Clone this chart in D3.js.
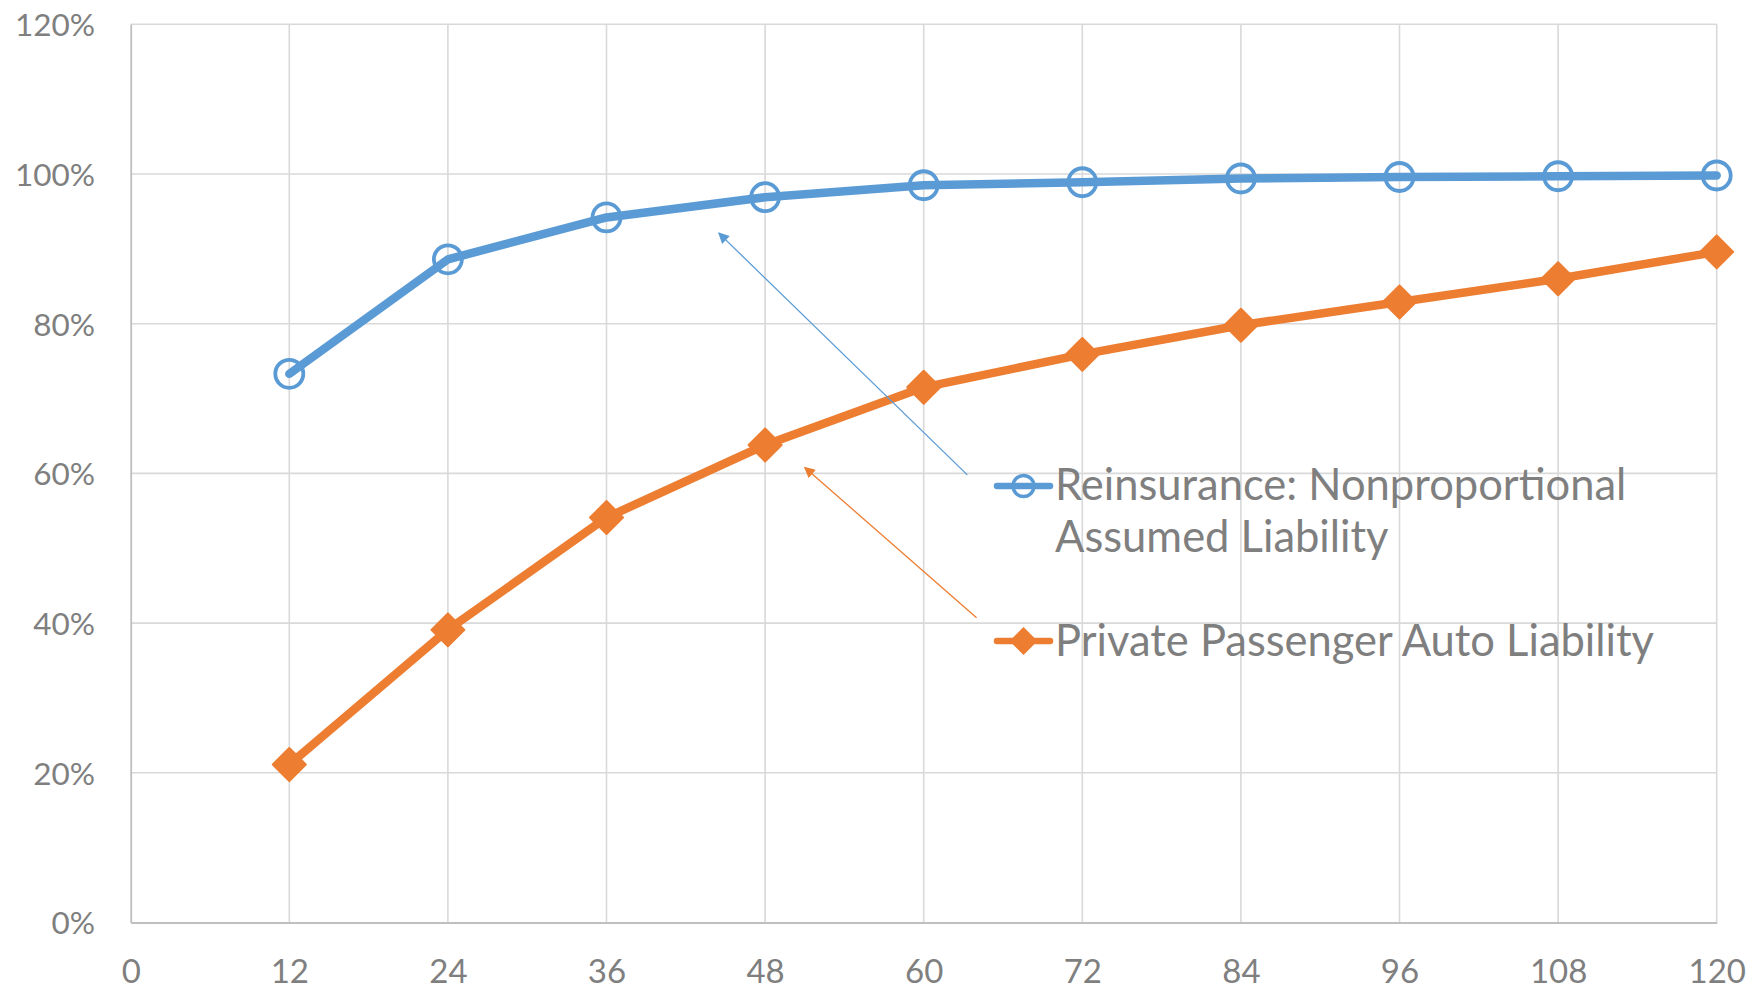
<!DOCTYPE html>
<html>
<head>
<meta charset="utf-8">
<script src="https://cdn.jsdelivr.net/npm/d3@7"></script>
<style>
  html, body { margin: 0; padding: 0; background: #ffffff; }
  svg { display: block; }
  text { font-family: Lato, "Open Sans", sans-serif; fill: #7f7f7f; }
</style>
</head>
<body>
<svg id="chart" width="1764" height="994"></svg>
<script>
// Development age in months
const months = [12, 24, 36, 48, 60, 72, 84, 96, 108, 120];
// Cumulative percentage of ultimate losses reported
const reinsuranceNonprop = [0.733, 0.886, 0.942, 0.969, 0.985, 0.989, 0.994, 0.996, 0.997, 0.998];
const privatePassengerAuto = [0.211, 0.391, 0.541, 0.638, 0.715, 0.759, 0.798, 0.829, 0.860, 0.896];

const xTicks = [0, 12, 24, 36, 48, 60, 72, 84, 96, 108, 120];
const yTicks = [0, 0.2, 0.4, 0.6, 0.8, 1.0, 1.2];

const seriesNames = ["Reinsurance: Nonproportional", "Assumed Liability"];
const autoName = "Private Passenger Auto Liability";

// Callout arrows: [fromMonth, fromPct] -> [toMonth, toPct]
const reinsArrow = [[63.3, 0.598], [44.5, 0.921]];
const autoArrow = [[64.0, 0.407], [51.0, 0.608]];

const BLUE = "#5b9bd5";
const ORANGE = "#ed7d31";

const svg = d3.select("#chart");
const plotLeft = 130.7, plotRight = 1716.7, plotTop = 24.3, plotBottom = 922.5;

const x = d3.scaleLinear().domain([0, 120]).range([plotLeft, plotRight]);
const y = d3.scaleLinear().domain([0, 1.2]).range([plotBottom, plotTop]);

// Gridlines
const grid = svg.append("g");
grid.selectAll("line.h").data(yTicks.filter(d => d > 0)).join("line")
  .attr("class", "h")
  .attr("x1", plotLeft).attr("x2", plotRight)
  .attr("y1", d => y(d)).attr("y2", d => y(d))
  .attr("stroke", "#d9d9d9").attr("stroke-width", 1.6);
grid.selectAll("line.v").data(xTicks.filter(d => d > 0)).join("line")
  .attr("class", "v")
  .attr("x1", d => x(d)).attr("x2", d => x(d))
  .attr("y1", plotTop).attr("y2", plotBottom)
  .attr("stroke", "#d9d9d9").attr("stroke-width", 1.6);

// Axes
const xAxis = svg.append("g").attr("transform", `translate(0,${plotBottom})`)
  .call(d3.axisBottom(x).tickValues(xTicks).tickSize(0).tickPadding(0).tickFormat(d3.format("d")));
xAxis.select(".domain").attr("stroke", "#bfbfbf").attr("stroke-width", 1.8);
xAxis.selectAll("text").attr("dy", null).attr("y", 60.5)
  .style("font-size", "33px").style("font-family", "Lato, sans-serif").attr("fill", "#7f7f7f");

const yAxis = svg.append("g").attr("transform", `translate(${plotLeft},0)`)
  .call(d3.axisLeft(y).tickValues(yTicks).tickSize(0).tickPadding(35.7).tickFormat(d3.format(".0%")));
yAxis.select(".domain").attr("stroke", "#bfbfbf").attr("stroke-width", 1.8);
yAxis.selectAll("text").attr("dy", "0.36em")
  .style("font-size", "31.5px").style("font-family", "Lato, sans-serif").attr("fill", "#7f7f7f");

// Series lines
const line = d3.line().x(d => x(d[0])).y(d => y(d[1]));
const reinsData = months.map((m, i) => [m, reinsuranceNonprop[i]]);
const autoData = months.map((m, i) => [m, privatePassengerAuto[i]]);

svg.append("path").datum(autoData).attr("d", line)
  .attr("fill", "none").attr("stroke", ORANGE).attr("stroke-width", 8.5)
  .attr("stroke-linejoin", "round").attr("stroke-linecap", "round");
svg.append("path").datum(reinsData).attr("d", line)
  .attr("fill", "none").attr("stroke", BLUE).attr("stroke-width", 8.5)
  .attr("stroke-linejoin", "round").attr("stroke-linecap", "round");

// Markers
const diamond = s => `M0,${-s}L${s},0L0,${s}L${-s},0Z`;
svg.append("g").selectAll("path").data(autoData).join("path")
  .attr("transform", d => `translate(${x(d[0])},${y(d[1])})`)
  .attr("d", diamond(16.5))
  .attr("fill", ORANGE).attr("stroke", ORANGE).attr("stroke-width", 2).attr("stroke-linejoin", "round");
svg.append("g").selectAll("circle").data(reinsData).join("circle")
  .attr("cx", d => x(d[0])).attr("cy", d => y(d[1])).attr("r", 14)
  .attr("fill", "none").attr("stroke", BLUE).attr("stroke-width", 3.8);

// Callout arrows
const defs = svg.append("defs");
function arrowHead(id, color) {
  defs.append("marker").attr("id", id)
    .attr("viewBox", "0 0 10 10").attr("refX", 9).attr("refY", 5)
    .attr("markerUnits", "userSpaceOnUse")
    .attr("markerWidth", 15).attr("markerHeight", 11).attr("orient", "auto")
    .append("path").attr("d", "M0,0L10,5L0,10Z").attr("fill", color);
}
arrowHead("headBlue", BLUE);
arrowHead("headOrange", ORANGE);
function arrow(a, color, id) {
  svg.append("line")
    .attr("x1", x(a[0][0])).attr("y1", y(a[0][1]))
    .attr("x2", x(a[1][0])).attr("y2", y(a[1][1]))
    .attr("stroke", color).attr("stroke-width", 1.3)
    .attr("marker-end", `url(#${id})`);
}
arrow(reinsArrow, BLUE, "headBlue");
arrow(autoArrow, ORANGE, "headOrange");

// Legend
const legend = svg.append("g");
const lgX0 = 997, lgX1 = 1050, textX = 1055;
const lgCx = (lgX0 + lgX1) / 2;
// Reinsurance entry
legend.append("line").attr("x1", lgX0).attr("x2", lgX1).attr("y1", 486).attr("y2", 486)
  .attr("stroke", BLUE).attr("stroke-width", 6.5).attr("stroke-linecap", "round");
legend.append("circle").attr("cx", lgCx).attr("cy", 486).attr("r", 10.5)
  .attr("fill", "none").attr("stroke", BLUE).attr("stroke-width", 3.4);
legend.append("text").attr("x", textX).attr("y", 500).text(seriesNames[0])
  .style("font-size", "43.5px");
legend.append("text").attr("x", textX).attr("y", 552).text(seriesNames[1])
  .style("font-size", "43.5px");
// Auto entry
legend.append("line").attr("x1", lgX0).attr("x2", lgX1).attr("y1", 641).attr("y2", 641)
  .attr("stroke", ORANGE).attr("stroke-width", 6.5).attr("stroke-linecap", "round");
legend.append("path").attr("transform", `translate(${lgCx},641)`)
  .attr("d", diamond(14)).attr("fill", ORANGE);
legend.append("text").attr("x", textX).attr("y", 656).text(autoName)
  .style("font-size", "43.5px");
</script>
</body>
</html>
